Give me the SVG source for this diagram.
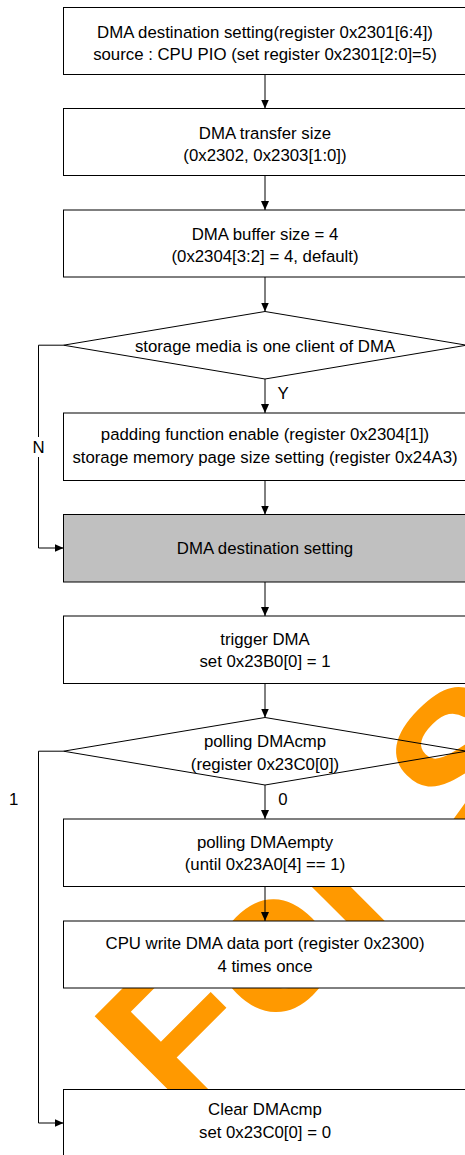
<svg xmlns="http://www.w3.org/2000/svg" width="465" height="1155" viewBox="0 0 465 1155">
  <defs>
    <marker id="arrow" markerUnits="userSpaceOnUse" markerWidth="9" markerHeight="8" refX="9" refY="4" orient="auto">
      <path d="M0,0 L9,4 L0,8 z" fill="#000"/>
    </marker>
    <style>
      .box { fill: #fff; stroke: #000; stroke-width: 1; }
      .shaded { fill: #c0c0c0; stroke: #000; stroke-width: 1; }
      .dec { fill: none; stroke: #000; stroke-width: 1; }
      .t { font-family: "Liberation Sans", Arial, sans-serif; font-size: 16.8px; fill: #000; text-anchor: middle; }
      .lbl { font-family: "Liberation Sans", Arial, sans-serif; font-size: 16.8px; fill: #000; text-anchor: middle; }
      .wire { fill: none; stroke: #000; stroke-width: 1; }
      .wm { font-family: "Liberation Sans", Arial, sans-serif; font-weight: bold; font-size: 200px; fill: #ff9900; }
    </style>
  </defs>

  <rect x="0" y="0" width="465" height="1155" fill="#fff"/>

  <!-- watermark, drawn beneath the flowchart -->
  <g id="watermark" transform="rotate(-45)">
    <text class="wm" x="-665" y="923">For<tspan dx="70" dy="14">S</tspan></text>
  </g>

  <g id="n1">
    <rect class="box" x="63.5" y="7.5" width="404" height="67"/>
    <text class="t" x="265" y="37.7">DMA destination setting(register 0x2301[6:4])</text>
    <text class="t" x="265" y="60.2">source : CPU PIO (set register 0x2301[2:0]=5)</text>
  </g>
  <g id="n2">
    <rect class="box" x="63.5" y="108.5" width="404" height="67"/>
    <text class="t" x="265" y="138.5">DMA transfer size</text>
    <text class="t" x="265" y="160.5">(0x2302, 0x2303[1:0])</text>
  </g>
  <g id="n3">
    <rect class="box" x="63.5" y="210" width="404" height="67"/>
    <text class="t" x="265" y="239.5">DMA buffer size = 4</text>
    <text class="t" x="265" y="262">(0x2304[3:2] = 4, default)</text>
  </g>
  <g id="d1">
    <polygon class="dec" points="265,311.5 466.5,345.2 265,379 63.5,345.2"/>
    <text class="t" x="265" y="351.5">storage media is one client of DMA</text>
  </g>
  <g id="n4">
    <rect class="box" x="63.5" y="413" width="404" height="67.5"/>
    <text class="t" x="265" y="440">padding function enable (register 0x2304[1])</text>
    <text class="t" x="265" y="463">storage memory page size setting (register 0x24A3)</text>
  </g>
  <g id="n5">
    <rect class="shaded" x="63.5" y="514.5" width="404" height="67.5"/>
    <text class="t" x="265" y="553.5">DMA destination setting</text>
  </g>
  <g id="n6">
    <rect class="box" x="63.5" y="616" width="404" height="67.5"/>
    <text class="t" x="265" y="644.5">trigger DMA</text>
    <text class="t" x="265" y="667">set 0x23B0[0] = 1</text>
  </g>
  <g id="d2">
    <polygon class="dec" points="265,717.5 466.5,751.2 265,785 63.5,751.2"/>
    <text class="t" x="265" y="746.7">polling DMAcmp</text>
    <text class="t" x="265" y="770">(register 0x23C0[0])</text>
  </g>
  <g id="n7">
    <rect class="box" x="63.5" y="819" width="404" height="67.5"/>
    <text class="t" x="265" y="847.5">polling DMAempty</text>
    <text class="t" x="265" y="870">(until 0x23A0[4] == 1)</text>
  </g>
  <g id="n8">
    <rect class="box" x="63.5" y="921" width="404" height="67"/>
    <text class="t" x="265" y="949">CPU write DMA data port (register 0x2300)</text>
    <text class="t" x="265" y="971.7">4 times once</text>
  </g>
  <g id="n9">
    <rect class="box" x="63.5" y="1089.5" width="404" height="68"/>
    <text class="t" x="265" y="1115">Clear DMAcmp</text>
    <text class="t" x="265" y="1138">set 0x23C0[0] = 0</text>
  </g>

  <g id="connectors">
    <path class="wire" d="M265,74.5 V108.5" marker-end="url(#arrow)"/>
    <path class="wire" d="M265,175.5 V210" marker-end="url(#arrow)"/>
    <path class="wire" d="M265,277 V311.5" marker-end="url(#arrow)"/>
    <path class="wire" d="M265,379 V413" marker-end="url(#arrow)"/>
    <path class="wire" d="M265,480.5 V514.5" marker-end="url(#arrow)"/>
    <path class="wire" d="M265,582 V616" marker-end="url(#arrow)"/>
    <path class="wire" d="M265,683.5 V717.5" marker-end="url(#arrow)"/>
    <path class="wire" d="M265,785 V819" marker-end="url(#arrow)"/>
    <path class="wire" d="M265,886.5 V921" marker-end="url(#arrow)"/>
    <!-- N branch -->
    <path class="wire" d="M63.5,345.2 H38.5 V437"/>
    <path class="wire" d="M38.5,457 V548 H63.5" marker-end="url(#arrow)"/>
    <!-- 1 branch -->
    <path class="wire" d="M63.5,751.2 H38.5 V1123 H63.5" marker-end="url(#arrow)"/>
    <text class="lbl" x="283" y="399">Y</text>
    <text class="lbl" x="38.5" y="452.5">N</text>
    <text class="lbl" x="283" y="805">0</text>
    <text class="lbl" x="13.7" y="805">1</text>
  </g>
</svg>
